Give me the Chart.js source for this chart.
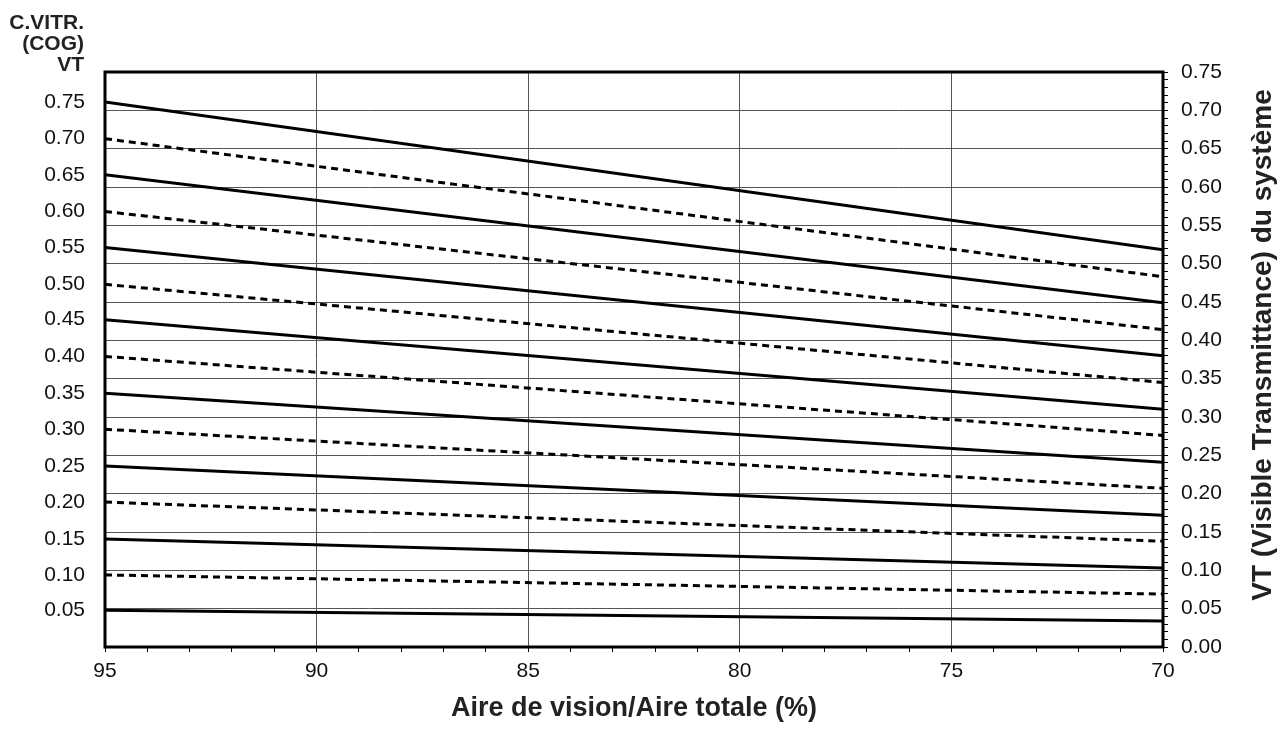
<!DOCTYPE html>
<html>
<head>
<meta charset="utf-8">
<script src="https://cdn.jsdelivr.net/npm/chart.js@4.4.1/dist/chart.umd.min.js"></script>
<style>
  html, body { margin: 0; padding: 0; background: #fff; }
  canvas { display: block; }
</style>
</head>
<body>
<canvas id="vtChart" width="1287" height="734"></canvas>
<script>
// C.VITR. (COG) VT of each line, top to bottom
const cogLabels = ['0.75', '0.70', '0.65', '0.60', '0.55', '0.50', '0.45', '0.40', '0.35', '0.30', '0.25', '0.20', '0.15', '0.10', '0.05'];
// system VT read at 95 % and at 70 %
const startVT = [0.711, 0.663, 0.616, 0.568, 0.521, 0.473, 0.427, 0.379, 0.331, 0.284, 0.236, 0.189, 0.141, 0.094, 0.048];
const endVT = [0.518, 0.483, 0.449, 0.414, 0.380, 0.345, 0.310, 0.276, 0.241, 0.207, 0.172, 0.138, 0.103, 0.069, 0.034];
const areaRatio = [95, 70];
const xTickLabels = [95, 90, 85, 80, 75, 70];
const vtTickLabels = ['0.00', '0.05', '0.10', '0.15', '0.20', '0.25', '0.30', '0.35', '0.40', '0.45', '0.50', '0.55', '0.60', '0.65', '0.70', '0.75'];

const FONT = '"Liberation Sans", Arial, Helvetica, sans-serif';
Chart.defaults.font.family = FONT;
Chart.defaults.color = '#111';

const datasets = cogLabels.map((lab, i) => ({
    label: lab,
    data: [{x: areaRatio[0], y: startVT[i]}, {x: areaRatio[1], y: endVT[i]}],
    borderColor: '#000',
    borderWidth: 3,
    borderDash: i % 2 ? [7, 5] : [],
    pointRadius: 0,
    fill: false,
    yAxisID: 'y'
}));

const tickFont = {size: 21};

const framePlugin = {
    id: 'frame',
    afterDatasetsDraw(chart) {
        const {ctx, chartArea: a} = chart;
        ctx.save();
        ctx.lineWidth = 3;
        ctx.strokeStyle = '#000';
        ctx.strokeRect(a.left, a.top, a.right - a.left, a.bottom - a.top);
        ctx.restore();
    }
};

const titlesPlugin = {
    id: 'titles',
    afterDraw(chart) {
        const ctx = chart.ctx;
        ctx.save();
        ctx.fillStyle = '#222';
        ctx.font = 'bold 21px ' + FONT;
        ctx.textAlign = 'right';
        ctx.textBaseline = 'alphabetic';
        ctx.fillText('C.VITR.', 84, 29);
        ctx.fillText('(COG)', 84, 50);
        ctx.fillText('VT', 84, 71);

        ctx.translate(1263, 345);
        ctx.rotate(-Math.PI / 2);
        ctx.font = 'bold 28px ' + FONT;
        ctx.textAlign = 'center';
        ctx.textBaseline = 'middle';
        ctx.fillText('VT (Visible Transmittance) du système', 0, 0);
        ctx.restore();
    }
};

new Chart(document.getElementById('vtChart'), {
    type: 'line',
    data: {datasets},
    options: {
        responsive: false,
        animation: false,
        devicePixelRatio: 1,
        layout: {padding: {top: 72, left: 0, right: 0, bottom: 0}},
        plugins: {legend: {display: false}, tooltip: {enabled: false}},
        scales: {
            x: {
                type: 'linear',
                min: 70,
                max: 95,
                reverse: true,
                afterBuildTicks: s => {
                    s.ticks = [];
                    for (let v = 70; v <= 95; v++) s.ticks.push({value: v});
                },
                afterFit: s => { s.height = 87; },
                grid: {
                    color: c => (c.tick && c.tick.value % 5 === 0) ? '#555' : 'rgba(0,0,0,0)',
                    lineWidth: 1,
                    tickColor: '#000',
                    tickLength: 5
                },
                border: {display: false},
                ticks: {
                    autoSkip: false,
                    maxRotation: 0,
                    padding: 7,
                    font: tickFont,
                    callback: v => xTickLabels.includes(v) ? String(v) : ''
                },
                title: {
                    display: true,
                    text: 'Aire de vision/Aire totale (%)',
                    color: '#222',
                    font: {size: 27, weight: 'bold', lineHeight: 1},
                    padding: {top: 0, bottom: 12}
                }
            },
            yL: {
                position: 'left',
                min: 0,
                max: 0.75,
                afterBuildTicks: s => { s.ticks = startVT.map(v => ({value: v})); },
                afterFit: s => { s.width = 105; },
                grid: {drawOnChartArea: false, drawTicks: false},
                border: {display: false},
                ticks: {
                    autoSkip: false,
                    padding: 20,
                    font: tickFont,
                    callback: (v, i) => cogLabels[i]
                }
            },
            y: {
                position: 'right',
                min: 0,
                max: 0.75,
                afterBuildTicks: s => {
                    s.ticks = [];
                    for (let k = 0; k <= 75; k++) s.ticks.push({value: k / 100});
                },
                afterFit: s => { s.width = 124; },
                grid: {
                    color: c => (c.tick && Math.round(c.tick.value * 100) % 5 === 0) ? '#555' : 'rgba(0,0,0,0)',
                    lineWidth: 1,
                    tickColor: '#000',
                    tickLength: 5
                },
                border: {display: false},
                ticks: {
                    autoSkip: false,
                    padding: 13,
                    font: tickFont,
                    callback: v => {
                        const k = Math.round(v * 100);
                        return k % 5 === 0 ? vtTickLabels[k / 5] : '';
                    }
                }
            }
        }
    },
    plugins: [framePlugin, titlesPlugin]
});
</script>
</body>
</html>
